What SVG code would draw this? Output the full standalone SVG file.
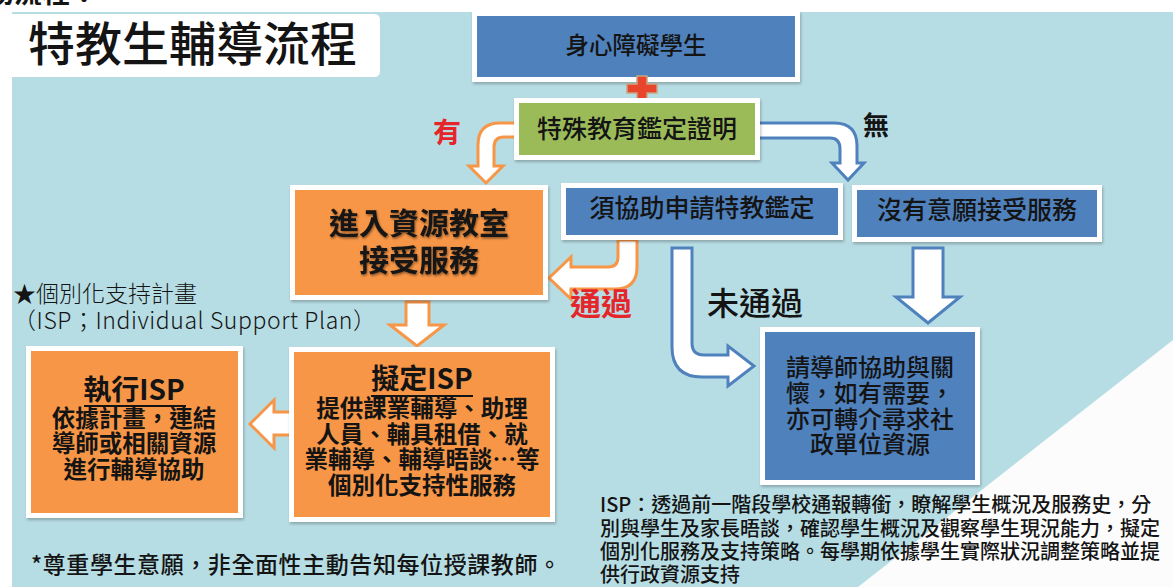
<svg xmlns="http://www.w3.org/2000/svg" width="1173" height="587" viewBox="0 0 1173 587">
<defs>
<style>
text{font-family:"Noto Sans CJK TC","Noto Sans",sans-serif;fill:#141414}
.frame{fill:#fff;filter:url(#sh)}
.blue{fill:#4f81bd}
.green{fill:#9bbb59}
.orange{fill:#f79646}
.c{text-anchor:middle}
.arO{fill:#fff;stroke:#f79646;stroke-width:3;stroke-linejoin:miter}
.arB{fill:#fff;stroke:#4f81bd;stroke-width:3;stroke-linejoin:miter}
.red{fill:#e4262b;font-weight:700}
.ul{stroke:#141414;stroke-width:2}
</style>
<filter id="sh" x="-10%" y="-10%" width="125%" height="130%">
<feDropShadow dx="1" dy="2" stdDeviation="1.5" flood-color="#000" flood-opacity="0.25"/>
</filter>
<filter id="ts" x="-10%" y="-20%" width="120%" height="150%">
<feDropShadow dx="1" dy="1.5" stdDeviation="1.2" flood-color="#000" flood-opacity="0.45"/>
</filter>
</defs>

<rect x="0" y="0" width="1173" height="587" fill="#fff"/>
<text x="-14" y="3" font-size="28" font-weight="700">務流程：</text>
<rect x="12" y="12" width="1161" height="575" fill="#b7dde4"/>
<polygon points="1173,340 1173,587 858,587" fill="#fcfcfc"/>

<g id="title">
<path d="M12,14 H374 Q380,14 380,20 V71 Q380,77 374,77 H12 Z" fill="#fff"/>
<text x="28" y="61" font-size="47" font-weight="500">特教生輔導流程</text>
</g>

<g id="connectors">
<path class="arO" d="M516,123 H500 Q478,123 478,145 V166 H469 L486,183 L503,166 H494 V147 Q494,137 504,137 H516 Z"/>
<path class="arB" d="M758,123 H834 Q857,123 857,146 V163 H864 L848,180 L832,163 H840 V149 Q840,138 830,138 H758 Z"/>
<path class="arO" d="M618,240 V257 Q618,267 608,267 H571 V257 L549,278 L571,299 V289 H615 Q637,289 637,267 V240 Z"/>
<path class="arB" d="M672,248 H692 V343 Q692,355 704,355 H728 V346 L754,366 L728,386 V377 H702 Q672,377 672,347 Z"/>
<path class="arB" d="M913,248 H943 V297 H960 L928,323 L896,297 H913 Z"/>
<path class="arO" d="M406,302 H429 V325 H444 L417,346 L390,325 H406 Z"/>
<path class="arO" d="M293,412 V435 H274 V448 L250,424 L274,400 V412 Z"/>
<text class="red c" x="447" y="143" font-size="28">有</text>
<text class="c" x="876" y="135" font-size="26" font-weight="700">無</text>
<text class="red c" x="601" y="315" font-size="31">通過</text>
<text x="707" y="315" font-size="32" font-weight="500">未通過</text>
</g>

<g id="n1">
<rect class="frame" x="472" y="11" width="328" height="71"/>
<rect class="blue" x="477" y="16" width="318" height="61"/>
<text class="c" x="636" y="54" font-size="23.5" font-weight="500">身心障礙學生</text>
</g>

<g id="plus">
<path d="M637,76 H647 V84 H657 V93 H647 V101 H637 V93 H627 V84 H637 Z" fill="#e8452c" stroke="#c8a583" stroke-width="1.5"/>
</g>

<g id="n2">
<rect class="frame" x="514" y="98" width="246" height="62"/>
<rect class="green" x="519" y="103" width="236" height="52"/>
<text class="c" x="637" y="138" font-size="25" font-weight="500">特殊教育鑑定證明</text>
</g>

<g id="n3">
<rect class="frame" x="290" y="185" width="258" height="115"/>
<rect class="orange" x="295" y="190" width="248" height="105"/>
<g filter="url(#ts)">
<text class="c" x="419" y="234" font-size="30" font-weight="700">進入資源教室</text>
<text class="c" x="419" y="271" font-size="30" font-weight="700">接受服務</text>
</g>
</g>

<g id="n4">
<rect class="frame" x="561" y="183" width="282" height="57"/>
<rect class="blue" x="566" y="188" width="272" height="47"/>
<text class="c" x="702" y="217" font-size="25" font-weight="500">須協助申請特教鑑定</text>
</g>

<g id="n5">
<rect class="frame" x="852" y="185" width="250" height="57"/>
<rect class="blue" x="857" y="190" width="240" height="47"/>
<text class="c" x="977" y="219" font-size="25" font-weight="500">沒有意願接受服務</text>
</g>

<g id="n6">
<rect class="frame" x="760" y="327" width="220" height="158"/>
<rect class="blue" x="765" y="332" width="210" height="148"/>
<text class="c" x="870" y="376" font-size="24" font-weight="500">請導師協助與關</text>
<text class="c" x="870" y="402" font-size="24" font-weight="500">懷，如有需要，</text>
<text class="c" x="870" y="428" font-size="24" font-weight="500">亦可轉介尋求社</text>
<text class="c" x="870" y="453" font-size="24" font-weight="500">政單位資源</text>
</g>

<g id="n7">
<rect class="frame" x="289" y="347" width="266" height="175"/>
<rect class="orange" x="294" y="352" width="256" height="165"/>
<text class="c" x="422" y="389" font-size="28" font-weight="700">擬定ISP</text>
<line class="ul" x1="371" y1="396" x2="473" y2="396"/>
<text class="c" x="422" y="417" font-size="23.5" font-weight="700">提供課業輔導、助理</text>
<text class="c" x="422" y="443" font-size="23.5" font-weight="700">人員、輔具租借、就</text>
<text class="c" x="422" y="468" font-size="23.5" font-weight="700">業輔導、輔導晤談…等</text>
<text class="c" x="422" y="494" font-size="23.5" font-weight="700">個別化支持性服務</text>
</g>

<g id="n8">
<rect class="frame" x="26" y="346" width="217" height="172"/>
<rect class="orange" x="31" y="351" width="207" height="162"/>
<text class="c" x="134" y="400" font-size="28" font-weight="700">執行ISP</text>
<line class="ul" x1="84" y1="406" x2="186" y2="406"/>
<text class="c" x="134" y="427" font-size="23.5" font-weight="700">依據計畫，連結</text>
<text class="c" x="134" y="452" font-size="23.5" font-weight="700">導師或相關資源</text>
<text class="c" x="134" y="478" font-size="23.5" font-weight="700">進行輔導協助</text>
</g>

<g id="notes">
<text x="13" y="302" font-size="23" font-weight="300">★個別化支持計畫</text>
<text x="13" y="329" font-size="23" font-weight="300" textLength="363" lengthAdjust="spacing">（ISP；Individual Support Plan）</text>
<text x="31" y="573" font-size="23" font-weight="500" textLength="530" lengthAdjust="spacing">*尊重學生意願，非全面性主動告知每位授課教師。</text>
<text x="600" y="512" font-size="20" font-weight="500">ISP：透過前一階段學校通報轉銜，瞭解學生概況及服務史，分</text>
<text x="600" y="536" font-size="20" font-weight="500">別與學生及家長晤談，確認學生概況及觀察學生現況能力，擬定</text>
<text x="600" y="559" font-size="20" font-weight="500">個別化服務及支持策略。每學期依據學生實際狀況調整策略並提</text>
<text x="600" y="582" font-size="20" font-weight="500">供行政資源支持</text>
</g>
</svg>
